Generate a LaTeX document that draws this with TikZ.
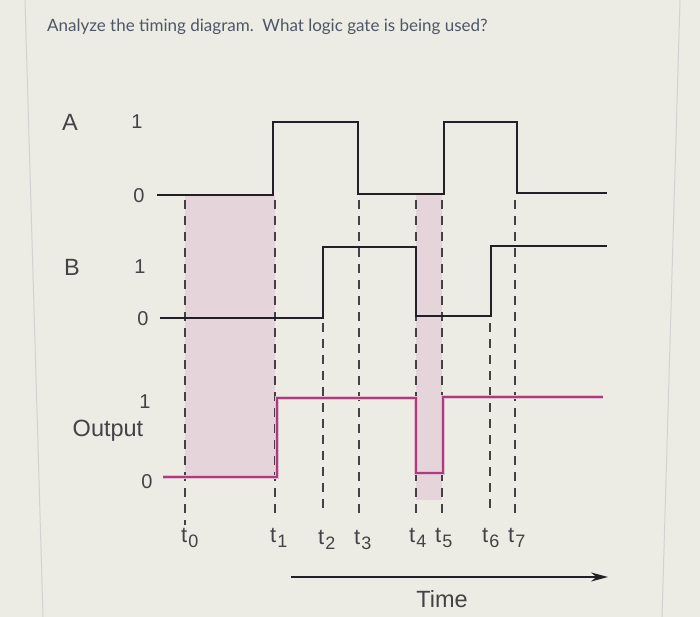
\documentclass[tikz,border=0pt]{standalone}
\usepackage{fontspec}
\setmainfont{Liberation Sans}
\newfontfamily\titlefont{Lato}
\usepackage{xcolor}
\usepackage{tikz}
\usetikzlibrary{arrows.meta}

\definecolor{panel}{RGB}{236,236,228}
\definecolor{pinkband}{RGB}{229,212,217}
\definecolor{outline}{RGB}{172,60,124}
\definecolor{ink}{RGB}{34,32,38}
\definecolor{titleink}{RGB}{78,86,104}

\newcommand{\tmark}[1]{t\kern1pt\raisebox{-5pt}{\fontsize{18}{20}\selectfont #1}}

\begin{document}
\begin{tikzpicture}[x=1pt, y=-1pt,
        signal/.style={line width=2.8pt, color=ink},
        outsig/.style={line width=2.6pt, color=outline},
        glow/.style={line width=4.4pt, color=outline!35},
        guide/.style={line width=1.4pt, color=ink!85, dash pattern=on 9pt off 7pt},
        lbl/.style={font=\fontsize{23.5}{26}\selectfont, color=ink!85, inner sep=0pt},
        lvl/.style={font=\fontsize{20}{22}\selectfont, color=ink!85, inner sep=0pt},
        tick/.style={font=\fontsize{22}{24}\selectfont, color=ink!85, inner sep=0pt, anchor=north west},
    ]
    \useasboundingbox (0,0) rectangle (700,617);
    \fill[panel] (0,0) rectangle (700,617);
    \draw[gray!35, line width=1pt] (25,0) -- (43,617);
    \draw[gray!35, line width=1pt] (680,0) -- (662,617);

    % question
    \node[anchor=base west, inner sep=0pt, color=titleink, font=\titlefont\fontsize{17}{20}\selectfont] (question) at (47,32)
        {Analyze the timing diagram.\ \ What logic gate is being used?};

    % shaded intervals
    \fill[pinkband] (185,196) rectangle (275,477);
    \fill[pinkband] (416,195) rectangle (442,500);

    % level labels
    \node[lbl] (labA) at (70,122) {A};
    \node[lvl] (hiA) at (137,122) {1};
    \node[lvl] (loA) at (139,196) {0};
    \node[lbl] (labB) at (72,267) {B};
    \node[lvl] (hiB) at (140,267) {1};
    \node[lvl] (loB) at (143,319) {0};
    \node[lvl] (hiOut) at (145,402) {1};
    \node[lbl] (labOut) at (108,431) {Output};
    \node[lvl] (loOut) at (147,482) {0};

    % time marks
    \node[tick] (t0) at (181,528) {\tmark{0}};
    \node[tick] (t1) at (270,528) {\tmark{1}};
    \node[tick] (t2) at (318,530) {\tmark{2}};
    \node[tick] (t3) at (354,530) {\tmark{3}};
    \node[tick] (t4) at (409,528) {\tmark{4}};
    \node[tick] (t5) at (435,528) {\tmark{5}};
    \node[tick] (t6) at (482,528) {\tmark{6}};
    \node[tick] (t7) at (508,528) {\tmark{7}};
    \coordinate (g0) at (185,200);
    \coordinate (g1) at (275,200);
    \coordinate (g2) at (323,323);
    \coordinate (g3) at (359,200);
    \coordinate (g4) at (416,200);
    \coordinate (g5) at (442,200);
    \coordinate (g6) at (490,323);
    \coordinate (g7) at (515,200);
    \draw[guide] (g0) -- (g0 |- 0,525);
    \draw[guide] (g1) -- (g1 |- 0,520);
    \draw[guide] (g2) -- (g2 |- 0,513);
    \draw[guide] (g3) -- (g3 |- 0,513);
    \draw[guide] (g4) -- (g4 |- 0,513);
    \draw[guide] (g5) -- (g5 |- 0,513);
    \draw[guide] (g6) -- (g6 |- 0,513);
    \draw[guide] (g7) -- (g7 |- 0,513);

    % waveforms
    \draw[signal] (157,195) -- (273,195) -- (273,122) -- (358,122) -- (358,194)
        -- (444,194) -- (444,122) -- (517,122) -- (517,193) -- (607,193);
    \draw[signal] (160,318) -- (323,318) -- (323,247) -- (416,247) -- (416,316)
        -- (491,316) -- (491,246) -- (607,246);
    \draw[glow] (163,477) -- (277,477) -- (277,398) -- (416,398) -- (416,473)
        -- (443,473) -- (443,397) -- (603,397);
    \draw[outsig] (163,477) -- (277,477) -- (277,398) -- (416,398) -- (416,473)
        -- (443,473) -- (443,397) -- (603,397);

    % time axis
    \coordinate (axisstart) at (291,577);
    \coordinate (axisend) at (608,577);
    \draw[line width=1.4pt, color=ink, -{Stealth[length=17pt, width=9pt]}] (axisstart) -- (axisend);
    \node[lbl] (time) at (442,599) {Time};
\end{tikzpicture}
\end{document}
